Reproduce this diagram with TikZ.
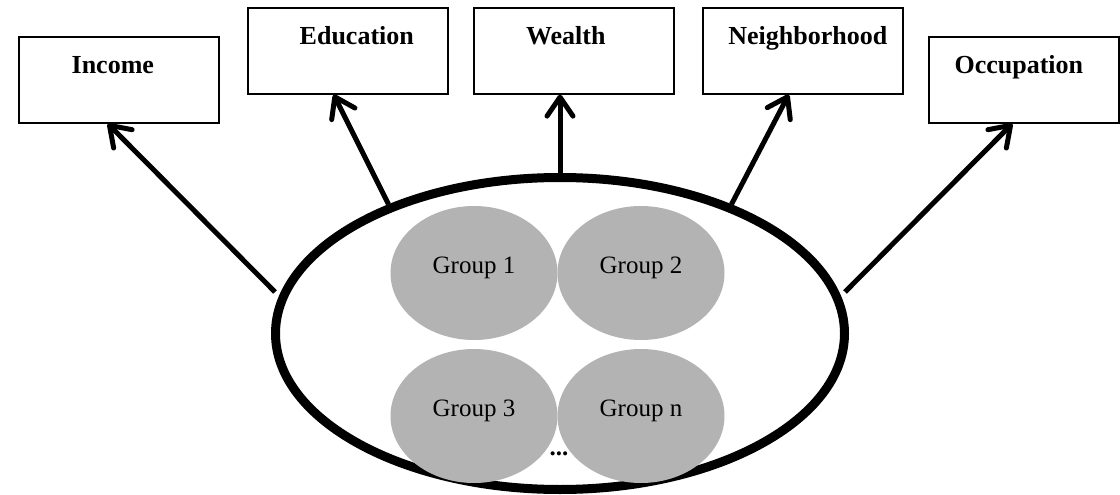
\documentclass[tikz,border=0pt]{standalone}
\usepackage{fontspec}
\setmainfont{Liberation Serif}
\usetikzlibrary{arrows.meta,shapes.geometric,calc}
\definecolor{grpgray}{RGB}{179,179,179}
\tikzset{
  catbox/.style={draw=black, line width=1.6pt, rectangle, anchor=north west,
    minimum width=200pt, inner xsep=0pt, inner ysep=0pt,
    text height=36.5pt, text depth=49.5pt,
    font=\fontsize{26}{30}\selectfont\bfseries},
  bigell/.style={draw=black, line width=9pt, ellipse, fill=white,
    minimum width=569pt, minimum height=312pt, inner sep=0pt},
  grp/.style={ellipse, fill=grpgray, draw=none, minimum width=167pt,
    minimum height=134pt, inner sep=0pt, text height=9pt, text depth=9pt,
    font=\fontsize{25}{30}\selectfont},
  arr/.style={line width=5pt,
    -{Straight Barb[length=19pt, width=26pt, line cap=round, line join=round]}}
}
\begin{document}
\begin{tikzpicture}[x=1pt, y=-1pt]
\useasboundingbox (0,0) rectangle (1120,495);
% category boxes
\node[catbox] (inc) at (18,36) {Income\kern12pt};
\node[catbox] (edu) at (247,7) {\kern18pt Education};
\node[catbox] (wea) at (473,7) {Wealth\kern16pt};
\node[catbox] (nei) at (702,7) {\kern10pt Neighborhood};
\node[catbox, minimum width=190pt] (occ) at (928,36) {Occupation\kern10pt};
% big ellipse
\node[bigell] (ell) at (560,333.5) {};
% groups
\node[grp] (g1) at (474,273) {Group 1};
\node[grp] (g2) at (641,273) {Group 2};
\node[grp] (g3) at (474,416) {Group 3};
\node[grp] (gn) at (641,416) {Group n};
\node[anchor=base, inner sep=0pt, font=\fontsize{25}{30}\selectfont\bfseries] (dots) at (559,455) {...};
% free ends of the outer arrows
\coordinate (incE) at (275,292);
\coordinate (occE) at (845,292);
% arrows
\draw[arr] (incE) -- ($(inc.south west)!0.445!(inc.south east)$);
\draw[arr] (ell.143) -- ($(edu.south west)!0.43!(edu.south east)$);
\draw[arr] (ell.north) -- (ell.north |- wea.south);
\draw[arr] (ell.37) -- ($(nei.south west)!0.43!(nei.south east)$);
\draw[arr] (occE) -- ($(occ.south west)!0.44!(occ.south east)$);
\end{tikzpicture}
\end{document}
